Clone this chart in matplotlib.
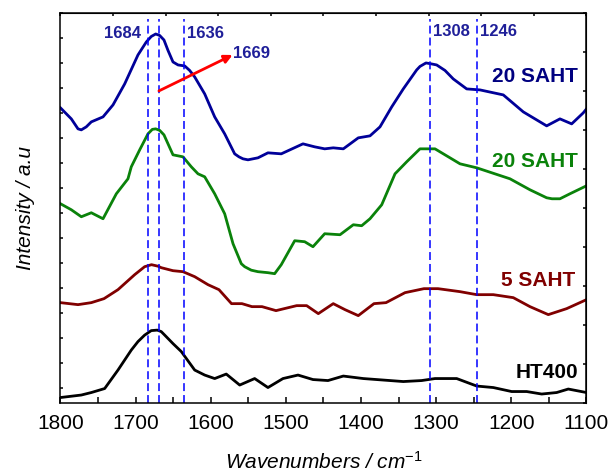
import numpy as np
import matplotlib
matplotlib.use('Agg')
import matplotlib.pyplot as plt

# Espectros FTIR (intensidad desplazada por muestra, unidades arbitrarias)
wn_20b = [1800, 1785.6, 1776.7, 1772.3, 1765.7, 1759, 1743.4, 1730.1, 1714.6, 1696.9, 1685.8,
          1679.2, 1673.3, 1668, 1662.3, 1656.9, 1650.3, 1643.6, 1634.7, 1628.1, 1621.4,
          1608.1, 1594.8, 1581.5, 1568.2, 1562.5, 1557.1, 1550.5, 1537.2, 1523.9, 1506.2,
          1477.3, 1461.7, 1448.4, 1437, 1423.6, 1403.7, 1388.1, 1374.8, 1359.2, 1343.8,
          1326, 1321.6, 1313.6, 1306, 1299.4, 1288.3, 1277.3, 1259.4, 1241.7, 1210.7,
          1184.1, 1153, 1135.3, 1119.7, 1104.3, 1100]
int_20b = [2.95, 2.84, 2.74, 2.73, 2.76, 2.81, 2.86, 2.98, 3.19, 3.48, 3.61,
           3.665, 3.69, 3.675, 3.63, 3.525, 3.41, 3.38, 3.37, 3.325, 3.26,
           3.09, 2.86, 2.69, 2.49, 2.46, 2.44, 2.43, 2.45, 2.50, 2.49,
           2.59, 2.56, 2.54, 2.55, 2.54, 2.65, 2.67, 2.76, 2.96, 3.14,
           3.33, 3.365, 3.40, 3.39, 3.38, 3.325, 3.24, 3.14, 3.13, 3.08,
           2.91, 2.77, 2.84, 2.79, 2.90, 2.94]

wn_20g = [1800, 1785.6, 1772.3, 1759, 1743.4, 1725.7, 1710.2, 1705.8, 1694.6, 1683.6, 1677.8,
          1673.3, 1668, 1662.3, 1650.3, 1637, 1625.9, 1617, 1608.1, 1594.8, 1581.5,
          1570.4, 1559.4, 1554.9, 1546.1, 1537.2, 1523.9, 1515, 1506.2, 1488.3, 1475,
          1464, 1448.4, 1428, 1410.3, 1399.2, 1388.1, 1372.5, 1354.8, 1339.3, 1321.6,
          1312.7, 1301.6, 1268.3, 1246.1, 1201.8, 1175.2, 1153, 1145.9, 1135.3, 1122, 1100]
int_20g = [1.99, 1.93, 1.86, 1.90, 1.84, 2.09, 2.24, 2.36, 2.53, 2.69, 2.735,
           2.74, 2.725, 2.68, 2.48, 2.46, 2.36, 2.29, 2.26, 2.09, 1.89,
           1.59, 1.39, 1.36, 1.325, 1.31, 1.30, 1.29, 1.38, 1.62, 1.61,
           1.56, 1.69, 1.68, 1.78, 1.77, 1.84, 1.98, 2.29, 2.41, 2.54,
           2.54, 2.54, 2.39, 2.35, 2.24, 2.13, 2.05, 2.04, 2.04, 2.09, 2.17]

wn_5 = [1800, 1776.7, 1759, 1742.1, 1723.5, 1701.3, 1688, 1678.9, 1670.2, 1665.9, 1650.3,
        1637, 1621.4, 1603.7, 1589.1, 1572.4, 1558.5, 1545.2, 1531.8, 1513.2, 1485.7,
        1472.4, 1456.9, 1437, 1421.4, 1403.7, 1382.8, 1366.8, 1341.5, 1316.3, 1297.6,
        1268.3, 1246.1, 1224, 1197.4, 1175.2, 1150.8, 1126.4, 1100]
int_5 = [1.00, 0.98, 1.00, 1.04, 1.13, 1.28, 1.36, 1.38, 1.365, 1.35, 1.32,
         1.31, 1.26, 1.18, 1.13, 0.99, 0.99, 0.96, 0.96, 0.92, 0.97,
         0.97, 0.89, 0.99, 0.93, 0.87, 0.99, 1.00, 1.10, 1.14, 1.14,
         1.11, 1.08, 1.08, 1.05, 0.96, 0.88, 0.94, 1.03]

wn_ht = [1800, 1772.3, 1759, 1741.2, 1723.5, 1705.8, 1696.9, 1688, 1679.2, 1671.2, 1665.9,
         1661.3, 1650.3, 1639.2, 1621.4, 1608.1, 1594.8, 1579.4, 1561.5, 1541.6, 1523.9,
         1503.9, 1483.9, 1464, 1444, 1423.6, 1397, 1370.4, 1343.8, 1319.3, 1301.6,
         1272.7, 1246.1, 1224, 1199.6, 1179.6, 1159.6, 1139.7, 1124.2, 1100]
int_ht = [0.05, 0.075, 0.10, 0.14, 0.325, 0.525, 0.61, 0.675, 0.72, 0.725, 0.71,
          0.675, 0.59, 0.51, 0.325, 0.275, 0.24, 0.285, 0.175, 0.24, 0.15,
          0.24, 0.275, 0.23, 0.22, 0.265, 0.24, 0.225, 0.21, 0.22, 0.24,
          0.24, 0.165, 0.15, 0.11, 0.11, 0.085, 0.10, 0.135, 0.10]

picos = [1684, 1669, 1636, 1308, 1246]

plt.rcParams['font.family'] = ['Liberation Sans', 'DejaVu Sans']
plt.rcParams['mathtext.fontset'] = 'custom'
plt.rcParams['mathtext.rm'] = 'Liberation Sans'
plt.rcParams['mathtext.it'] = 'Liberation Sans:italic'

fig = plt.figure(figsize=(6.08, 4.73), dpi=100)
ax = fig.add_axes([0.0995, 0.149, 0.8651, 0.8235])

lw = 2.0
ax.plot(wn_20b, int_20b, color='#000099', lw=lw, solid_joinstyle='round')
ax.plot(wn_20g, int_20g, color='#0A820A', lw=lw, solid_joinstyle='round')
ax.plot(wn_5, int_5, color='#800000', lw=lw, solid_joinstyle='round')
ax.plot(wn_ht, int_ht, color='black', lw=lw, solid_joinstyle='round')

# Lineas verticales de los picos
for p in picos:
    ax.plot([p, p], [0, 3.845], color='#0000FF', lw=1.1, ls=(0, (5.2, 2.6)))

col_txt = '#1F1F99'
ax.text(1693, 3.695, '1684', color=col_txt, fontsize=12, fontweight='bold', ha='right', va='center')
ax.text(1632, 3.695, '1636', color=col_txt, fontsize=12, fontweight='bold', ha='left', va='center')
ax.text(1304, 3.71, '1308', color=col_txt, fontsize=12, fontweight='bold', ha='left', va='center')
ax.text(1242, 3.71, '1246', color=col_txt, fontsize=12, fontweight='bold', ha='left', va='center')
ax.text(1571, 3.495, '1669', color=col_txt, fontsize=12, fontweight='bold', ha='left', va='center')
ax.annotate('', xy=(1571, 3.48), xytext=(1669, 3.12),
            arrowprops=dict(arrowstyle='-|>', color='red', lw=2, mutation_scale=12,
                            shrinkA=0, shrinkB=0))

# Etiquetas de las muestras
ax.text(1111, 3.265, '20 SAHT', color='#000080', fontsize=15, fontweight='bold', ha='right', va='center')
ax.text(1111, 2.415, '20 SAHT', color='#0A820A', fontsize=15, fontweight='bold', ha='right', va='center')
ax.text(1115, 1.22, '5 SAHT', color='#800000', fontsize=15, fontweight='bold', ha='right', va='center')
ax.text(1111, 0.30, 'HT400', color='black', fontsize=15, fontweight='bold', ha='right', va='center')

ax.set_xlim(1800, 1100)
ax.set_ylim(0, 3.9)
ax.set_xticks(np.arange(1800, 1099, -100))
ax.set_xticks(np.arange(1750, 1100, -100), minor=True)
ax.set_yticks(np.arange(3.9, 0.05, -0.25))
ax.set_yticklabels([])
ax.tick_params(axis='x', direction='in', length=4, width=1.1, labelsize=15, pad=8)
ax.tick_params(axis='x', which='minor', direction='in', length=4, width=1.1)
ax.tick_params(axis='y', direction='in', length=2.5, width=1.1)
for s in ax.spines.values():
    s.set_linewidth(1.1)

sup = ax.secondary_xaxis('top')
sup.set_xticks(np.linspace(1800, 1100, 11))
sup.set_xticklabels([])
sup.tick_params(direction='in', length=2.5, width=1.1)
der = ax.secondary_yaxis('right')
der.set_yticks(np.linspace(0, 3.9, 11))
der.set_yticklabels([])
der.tick_params(direction='in', length=2.5, width=1.1)

ax.set_xlabel('Wavenumbers / cm$^{-1}$', fontsize=15, fontstyle='italic', labelpad=13)
ax.set_ylabel('Intensity / a.u', fontsize=15, fontstyle='italic', labelpad=15)

plt.savefig('out.png', dpi=100)
